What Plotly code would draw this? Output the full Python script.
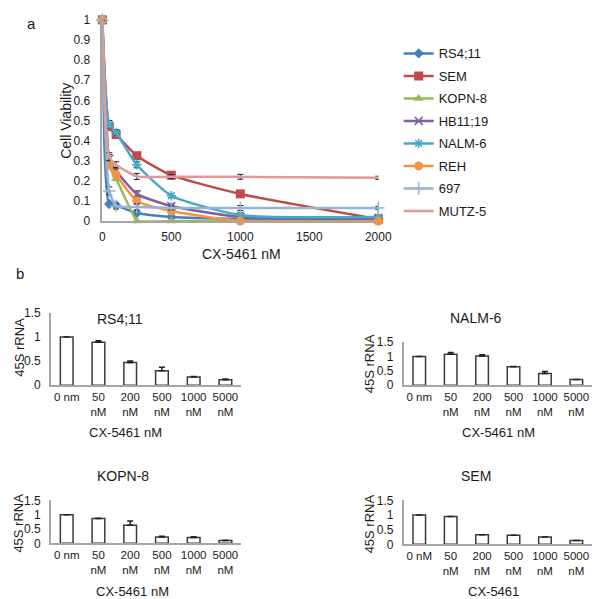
import plotly.graph_objects as go

W, H = 600, 599
FONT = "Arial, Liberation Sans, sans-serif"
TXT = "#1a1a1a"
AXC = "#a6a6a6"

# ---- panel a data ----
doses = [0, 50, 100, 250, 500, 1000, 2000]
cell_lines = ["RS4;11", "SEM", "KOPN-8", "HB11;19", "NALM-6", "REH", "697", "MUTZ-5"]
rs411_via = [1.0, 0.085, 0.078, 0.04, 0.02, 0.01, 0.01]
sem_via = [1.0, 0.47, 0.43, 0.325, 0.228, 0.135, 0.01]
kopn8_via = [1.0, 0.27, 0.21, 0.0, 0.0, 0.0, 0.0]
hb1119_via = [1.0, 0.31, 0.25, 0.135, 0.075, 0.02, 0.01]
nalm6_via = [1.0, 0.48, 0.44, 0.28, 0.126, 0.03, 0.02]
reh_via = [1.0, 0.28, 0.23, 0.10, 0.05, 0.0, 0.0]
s697_via = [1.0, 0.15, 0.075, 0.07, 0.065, 0.065, 0.065]
mutz5_via = [1.0, 0.32, 0.28, 0.222, 0.22, 0.22, 0.215]
via_err = [0, 0.02, 0.015, 0.015, 0.01, 0.012, 0.008]

# ---- panel b data ----
tick_nm = ["0 nm", "50<br>nM", "200<br>nM", "500<br>nM", "1000<br>nM", "5000<br>nM"]
tick_nM = ["0 nM", "50<br>nM", "200<br>nM", "500<br>nM", "1000<br>nM", "5000<br>nM"]
rs411_rrna = [1.0, 0.89, 0.47, 0.30, 0.17, 0.11]
rs411_err = [0, 0.03, 0.03, 0.07, 0.01, 0.02]
nalm6_rrna = [1.0, 1.08, 1.02, 0.64, 0.41, 0.20]
nalm6_err = [0, 0.06, 0.04, 0.01, 0.07, 0.0]
kopn8_rrna = [1.0, 0.87, 0.63, 0.22, 0.20, 0.10]
kopn8_err = [0, 0.01, 0.15, 0.03, 0.03, 0.01]
sem_rrna = [1.0, 0.95, 0.33, 0.31, 0.25, 0.13]
sem_err = [0, 0, 0, 0, 0, 0]


def xd(a, b):
    return [a / W, b / W]


def yd(top, bottom):
    return [1 - bottom / H, 1 - top / H]


fig = go.Figure()

# values, colour, marker symbol, marker size, thin symbol?, spline smoothing
series = [
    (rs411_via, "#4A7EBB", "diamond", 8, False, 0.55),
    (sem_via, "#BE4B48", "square", 9, False, 0.55),
    (kopn8_via, "#98B954", "triangle-up", 9, False, 0.2),
    (hb1119_via, "#7D60A0", "x-thin-open", 8, True, 0.55),
    (nalm6_via, "#46AAC5", "asterisk-open", 8, True, 0.55),
    (reh_via, "#F69240", "circle", 9, False, 0.55),
    (s697_via, "#95B3D7", "cross-thin-open", 9, True, 0.55),
    (mutz5_via, "#DE9A98", None, 0, False, 0.55),
]
for i, (vals, col, sym, size, thin, smooth) in enumerate(series):
    marker = dict(color=col, size=size, symbol=sym or "circle",
                  line=dict(color=col, width=1.5 if thin else 0))
    mode = "lines+markers" if sym else "lines"
    show_err = cell_lines[i] in ("SEM", "HB11;19", "NALM-6", "697", "MUTZ-5")
    fig.add_trace(go.Scatter(
        x=doses, y=vals, name=cell_lines[i], mode=mode,
        line=dict(color=col, width=2.5, shape="spline", smoothing=smooth),
        marker=marker, cliponaxis=False, legendgroup=cell_lines[i],
        error_y=dict(type="data", array=via_err, color="#222", thickness=1,
                     width=3, visible=show_err),
        xaxis="x", yaxis="y"))

panels = [
    ("2", rs411_rrna, rs411_err, tick_nm),
    ("3", nalm6_rrna, nalm6_err, tick_nm),
    ("4", kopn8_rrna, kopn8_err, tick_nm),
    ("5", sem_rrna, sem_err, tick_nM),
]
for ax, vals, err, ticks in panels:
    fig.add_trace(go.Bar(
        x=ticks, y=vals, width=0.4, showlegend=False,
        marker=dict(color="white", line=dict(color="#3a3a3a", width=1.5)),
        error_y=dict(type="data", array=err, arrayminus=[0] * len(err),
                     symmetric=False, color="#222", thickness=1.5, width=3),
        xaxis="x" + ax, yaxis="y" + ax))

tickfont = dict(family=FONT, size=12, color=TXT)
axis_common = dict(showgrid=False, zeroline=False, showline=True,
                   linecolor=AXC, linewidth=1.5)

layout = dict(
    width=W, height=H, margin=dict(l=0, r=0, t=0, b=0),
    paper_bgcolor="white", plot_bgcolor="white",
    font=dict(family=FONT, color=TXT),
    showlegend=True,
    legend=dict(x=399 / W, y=1 - 24 / H, xanchor="left", yanchor="top",
                font=dict(family=FONT, size=13, color=TXT),
                itemwidth=30, tracegroupgap=2.6, bgcolor="rgba(0,0,0,0)"),
    xaxis=dict(domain=xd(94, 378), range=[0, 2000], tickvals=[0, 500, 1000, 1500, 2000],
               ticklabelstandoff=4, anchor="y", tickfont=tickfont, **axis_common),
    yaxis=dict(domain=yd(5, 211), range=[0, 1], dtick=0.1, tickformat="~g",
               ticklabelstandoff=8, anchor="x", tickfont=tickfont, **axis_common),
)

bar_dom = {
    "2": (xd(41, 237), yd(305, 379)),
    "3": (xd(404, 598), yd(335, 379)),
    "4": (xd(41, 237), yd(497, 541)),
    "5": (xd(404, 598), yd(497, 542)),
}
for ax, (xdm, ydm) in bar_dom.items():
    layout["xaxis" + ax] = dict(domain=xdm, type="category", range=[-0.5, 5.5],
                                ticklabelstandoff=0, anchor="y" + ax,
                                tickfont=dict(family=FONT, size=11.5, color=TXT),
                                **axis_common)
    layout["yaxis" + ax] = dict(domain=ydm, range=[0, 1.5], tickvals=[0, 0.5, 1, 1.5],
                                ticktext=["0", "0.5", "1", "1.5"], ticklabelstandoff=6,
                                anchor="x" + ax, tickfont=tickfont, **axis_common)


def ann(text, x, y, size=14, angle=0):
    return dict(text=text, x=x / W, y=1 - y / H, xref="paper", yref="paper",
                showarrow=False, textangle=angle, xanchor="center", yanchor="middle",
                font=dict(family=FONT, size=size, color=TXT))


layout["annotations"] = [
    ann("a", 21, 9, 15),
    ann("b", 9, 265, 15),
    ann("Cell Viability", 57, 108, 14, -90),
    ann("CX-5461 nM", 237, 245, 14),
    ann("RS4;11", 112, 311, 14),
    ann("NALM-6", 479, 310, 14),
    ann("KOPN-8", 115, 472, 14),
    ann("SEM", 479, 472, 14),
    ann("45S rRNA", 8, 340, 13, -90),
    ann("45S rRNA", 369, 357, 13, -90),
    ann("45S rRNA", 8, 520, 13, -90),
    ann("45S rRNA", 369, 521, 13, -90),
    ann("CX-5461 nM", 118, 428, 13),
    ann("CX-5461 nM", 502, 428, 13),
    ann("CX-5461 nM", 125, 590, 13),
    ann("CX-5461", 497, 590, 13),
]

fig.update_layout(**layout)
fig.write_html("out.html")
